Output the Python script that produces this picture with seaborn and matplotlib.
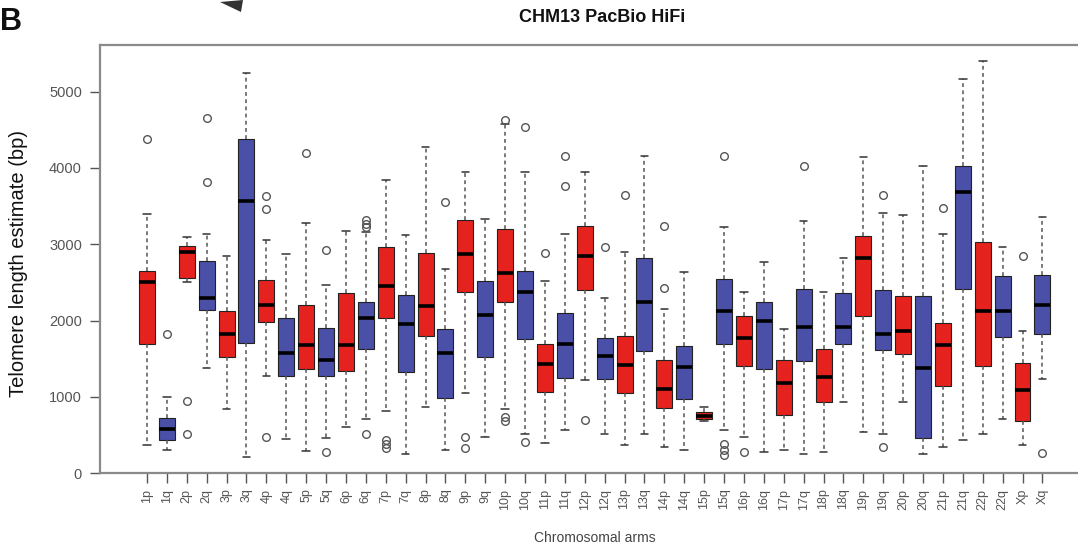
import matplotlib
matplotlib.use("Agg")
import matplotlib.pyplot as plt
from matplotlib.patches import Polygon
import seaborn as sns

sns.set_style("white")
plt.rcParams['font.family'] = ['Liberation Sans', 'DejaVu Sans']

# ---- data ----
ARMS = ["1p", "1q", "2p", "2q", "3p", "3q", "4p", "4q", "5p", "5q", "6p", "6q",
        "7p", "7q", "8p", "8q", "9p", "9q", "10p", "10q", "11p", "11q", "12p", "12q",
        "13p", "13q", "14p", "14q", "15p", "15q", "16p", "16q", "17p", "17q", "18p", "18q",
        "19p", "19q", "20p", "20q", "21p", "21q", "22p", "22q", "Xp", "Xq"]

WHISK_LO = [370, 310, 2500, 1380, 840, 220, 1270, 450, 290, 460, 610, 710,
            810, 250, 870, 310, 1050, 480, 840, 520, 400, 570, 1220, 520,
            370, 520, 350, 300, 690, 570, 470, 280, 310, 250, 280, 930,
            540, 520, 940, 250, 340, 440, 520, 710, 370, 1230]
Q1 = [1690, 440, 2560, 2140, 1520, 1710, 1980, 1280, 1370, 1270, 1340, 1630,
      2040, 1330, 1800, 990, 2370, 1520, 2250, 1760, 1060, 1250, 2400, 1240,
      1050, 1600, 860, 970, 710, 1700, 1410, 1360, 760, 1470, 940, 1700,
      2060, 1620, 1560, 460, 1140, 2420, 1400, 1780, 680, 1830]
MED = [2500, 580, 2900, 2290, 1830, 3570, 2210, 1570, 1680, 1490, 1680, 2030,
       2450, 1960, 2190, 1570, 2870, 2070, 2620, 2380, 1430, 1690, 2840, 1530,
       1420, 2250, 1100, 1390, 750, 2120, 1770, 2000, 1180, 1920, 1260, 1920,
       2820, 1830, 1870, 1380, 1680, 3680, 2130, 2130, 1090, 2210]
Q3 = [2650, 730, 2980, 2780, 2120, 4380, 2530, 2040, 2200, 1900, 2360, 2240,
      2960, 2340, 2880, 1890, 3320, 2520, 3200, 2650, 1690, 2100, 3240, 1770,
      1800, 2820, 1480, 1670, 800, 2550, 2060, 2250, 1490, 2420, 1630, 2360,
      3110, 2400, 2320, 2320, 1970, 4020, 3030, 2580, 1450, 2600]
WHISK_HI = [3390, 1000, 3100, 3140, 2850, 5240, 3060, 2870, 3280, 2460, 3170, 3160,
            3840, 3120, 4280, 2670, 3950, 3330, 4580, 3940, 2520, 3140, 3940, 2300,
            2900, 4150, 2150, 2640, 870, 3230, 2370, 2770, 1890, 3310, 2370, 2820,
            4140, 3410, 3380, 4030, 3140, 5170, 5400, 2960, 1870, 3360]
OUTLIERS = [[4380], [1830], [950, 510], [4650, 3820], [], [],
            [3630, 3460, 470], [], [4190], [2930, 280], [], [3320, 3270, 3230, 520],
            [440, 380, 330], [], [], [3560], [470, 330], [],
            [4630, 740, 680], [4530, 410], [2890], [4150, 3760], [700], [2960],
            [3650], [], [3240, 2430], [], [], [4160, 380, 310, 240],
            [280], [], [], [4030], [], [],
            [], [3640, 340], [], [], [3470], [],
            [], [], [2840], [260]]

TITLE = "CHM13 PacBio HiFi"
YLABEL = "Telomere length estimate (bp)"
XLABEL = "Chromosomal arms"
YTICKS = [0, 1000, 2000, 3000, 4000, 5000]

RED = "#E5221D"
BLUE = "#4A4FA8"

# ---- figure ----
W, H = 1078, 546
fig = plt.figure(figsize=(W / 100, H / 100), dpi=100)
ax = fig.add_axes([100 / W, (H - 473.3) / H, (1089 - 100) / W, (473.3 - 45) / H])

stats = []
for i, arm in enumerate(ARMS):
    stats.append(dict(label=arm, whislo=WHISK_LO[i], q1=Q1[i], med=MED[i],
                      q3=Q3[i], whishi=WHISK_HI[i], fliers=OUTLIERS[i]))

positions = list(range(1, len(ARMS) + 1))
bp = ax.bxp(stats, positions=positions, widths=0.8, capwidths=0.38,
            patch_artist=True, manage_ticks=False,
            boxprops=dict(edgecolor="#222222", linewidth=0.8),
            whiskerprops=dict(color="#555555", linestyle=(0, (2.5, 2.2)), linewidth=1.1),
            capprops=dict(color="#333333", linewidth=1.1),
            medianprops=dict(color="black", linewidth=2.6, solid_capstyle="butt"),
            flierprops=dict(marker="o", markerfacecolor="none",
                            markeredgecolor="#555555", markersize=5.5,
                            markeredgewidth=1.0, linestyle="none"))
for patch, arm in zip(bp["boxes"], ARMS):
    patch.set_facecolor(RED if arm.endswith("p") else BLUE)

ax.set_xlim(-1.36, 48.34)
ax.set_ylim(0, 5610)
ax.set_xticks(positions)
ax.set_xticklabels(ARMS, rotation=90)
ax.set_yticks(YTICKS)
ax.set_yticklabels([str(v) for v in YTICKS])

ax.tick_params(axis="x", direction="out", length=7, width=1.0, color="#555555",
               labelsize=9, labelcolor="#555555", pad=4, bottom=True)
ax.tick_params(axis="y", direction="out", length=7, width=1.0, color="#555555",
               labelsize=10.5, labelcolor="#555555", pad=6, left=True)
for s in ax.spines.values():
    s.set_color("#8a8a8a")
    s.set_linewidth(1.6)

ax.set_ylabel(YLABEL, fontsize=14.5, color="#111111")
ax.yaxis.set_label_coords(-72 / (1089 - 100), 0.49)
fig.text(595 / W, 1 - 538 / H, XLABEL, ha="center", va="center",
         fontsize=10, color="#444444")

fig.text(602 / W, 1 - 18 / H, TITLE, ha="center", va="center",
         fontsize=13, fontweight="bold", color="#111111")
fig.text(0.5 / W, 1 - 30 / H, "B", ha="left", va="baseline",
         fontsize=22, fontweight="bold", color="#111111")
tri = Polygon([(220 / W, 1 - 2 / H), (243 / W, 1 - 0 / H), (241 / W, 1 - 12 / H)],
              closed=True, transform=fig.transFigure, facecolor="#333333",
              edgecolor="none")
fig.patches.append(tri)

fig.savefig("out.png", dpi=100)
